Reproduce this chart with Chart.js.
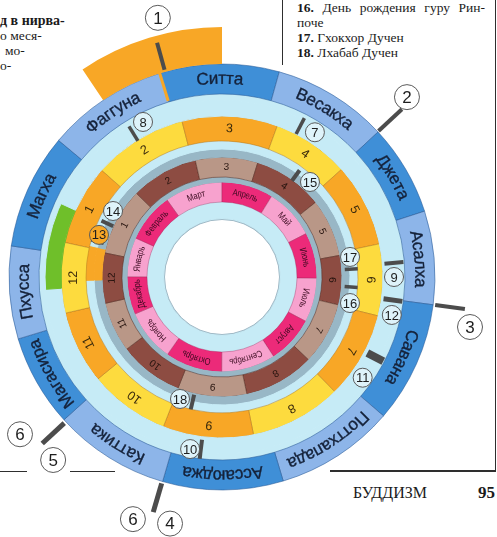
<!DOCTYPE html>
<html lang="ru">
<head>
<meta charset="utf-8">
<title>Буддийский календарь</title>
<script src="https://cdn.jsdelivr.net/npm/chart.js@4.4.1/dist/chart.umd.min.js"></script>
<style>
    html, body { margin: 0; padding: 0; background: #fff; }
    #page {
        position: relative;
        width: 497px;
        height: 537px;
        overflow: hidden;
        font-family: "Liberation Serif", "DejaVu Serif", serif;
        color: #1b1b1b;
    }
    #chartBox { position: absolute; left: 0; top: 0; width: 497px; height: 537px; }
    .txt { position: absolute; white-space: nowrap; font-size: 13.5px; line-height: 15px; }
    .rule { position: absolute; background: #2e2e2e; }
</style>
</head>
<body>
<div id="page">
    <!-- page text around the diagram -->
    <div class="txt" style="left:0;top:13px;font-weight:bold;font-size:14px;">д в нирва-</div>
    <div class="txt" style="left:0;top:28px;">о меся-</div>
    <div class="txt" style="left:5px;top:43px;">мо-</div>
    <div class="txt" style="left:0;top:58px;">о-</div>

    <div class="rule" style="left:282px;top:0;width:1px;height:65px;"></div>
    <div class="txt" style="left:297px;top:0;width:188px;white-space:normal;text-align:justify;text-align-last:justify;"><b>16.</b> День рождения гуру Рин-</div>
    <div class="txt" style="left:297px;top:15px;">поче</div>
    <div class="txt" style="left:297px;top:30px;"><b>17.</b> Гхокхор Дучен</div>
    <div class="txt" style="left:297px;top:45px;"><b>18.</b> Лхабаб Дучен</div>

    <div class="rule" style="left:0;top:471px;width:27px;height:1px;"></div>
    <div class="rule" style="left:70px;top:471px;width:45px;height:1px;"></div>
    <div class="rule" style="left:330px;top:470px;width:166px;height:1.5px;"></div>
    <div class="rule" style="left:495px;top:0;width:1px;height:471px;"></div>

    <div class="txt" style="left:353px;top:484px;font-size:16px;line-height:18px;">БУДДИЗМ</div>
    <div class="txt" style="left:478px;top:483px;font-size:17px;line-height:19px;font-weight:bold;">95</div>

    <div id="chartBox"><canvas id="calendarChart"></canvas></div>
</div>

<script>
// ---- values (segment sweeps in degrees, clockwise from top) ----

// outer ring: Pali month names
const paliMonths = ['Ситта', 'Весакха', 'Джета', 'Асалха', 'Савана', 'Поттхапада',
                    'Ассаюджа', 'Каттика', 'Магасира', 'Пхусса', 'Магха', 'Фаггуна'];
const paliSpans = [32.5, 31.5, 24.9, 25.5, 33.2, 32.6, 32.9, 31.7, 25.2, 25.3, 31.5, 33.2];
const paliStart = -16.9;

// yellow/orange ring: lunar months 1..12
const lunarMonths = ['1', '2', '3', '4', '5', '6', '7', '8', '9', '10', '11', '12'];
const lunarSpans = [29.2, 34.0, 34.5, 27.9, 30.1, 25.9, 31.5, 33.2, 32.7, 29.2, 26.4, 25.4];
const lunarStart = -77.6;

// brown ring: Tibetan months 1..12
const tibetanMonths = ['1', '2', '3', '4', '5', '6', '7', '8', '9', '10', '11', '12'];
const tibetanSpans = [32.8, 32.7, 30.3, 34.0, 28.2, 23.9, 30.3, 34.2, 33.6, 31.3, 24.4, 24.3];
const tibetanStart = -78.4;

// pink ring: Gregorian months
const gregMonths = ['Март', 'Апрель', 'Май', 'Июнь', 'Июль', 'Август',
                    'Сентябрь', 'Октябрь', 'Ноябрь', 'Декабрь', 'Январь', 'Февраль'];
const gregSpans = [35.5, 31.6, 31.1, 28.1, 27.1, 29.1, 33.2, 35.0, 31.8, 23.2, 24.1, 30.2];
const gregStart = -35.5;

// extra arcs: festival band above Фаггуна, green band, orange piece at 13
const festivalSpans = [33.9, 326.1];
const festivalStart = -33.9;
const greenSpans = [266.0, 28.5, 65.5];
const piece13Spans = [268.6, 14.8, 76.6];

// numbered callouts: angle (deg from top, clockwise), radius (px)
const calloutNums = ['1', '2', '3', '6', '4', '6', '5',
                     '7', '8', '9', '12', '11', '10', '18', '15', '17', '16', '14', '13'];
const calloutAngles = [-13.9, 45.8, 101.4, 200.2, 191.9, 232.1, 222.7,
                       32.7, 333, 90, 102.6, 125.6, 190.5, 199, 42.8, 81.1, 101.5, 301.2, 288.9];
const calloutRadii = [267, 258, 253, 258, 252, 256, 249,
                      172, 174, 172, 174, 173, 175, 129, 129.5, 129.6, 130.6, 127.4, 130];

// dark tick bars: angle, from radius, to radius
const tickAngles = [-15.5, 47, 97.5, 196.3, 227.2, 27.4, 328.3, 85.3, 97.7, 117.6, 187,
                    193.3, 36, 86.5, 94.4, 295, 286];
const tickFrom = [215, 214, 215, 215, 215, 161, 160, 163, 163, 164, 164, 121, 119, 123, 123, 120, 123];
const tickTo = [243, 246, 245, 245, 245, 179, 177, 182, 182, 182, 183, 136, 132, 136, 136, 133, 136];
const tickWidths = [4, 4, 4, 5, 5, 3.5, 3.5, 4, 5, 8, 4, 4, 4, 3.5, 3.5, 4, 4];

// ---- styling ----
const COLORS = {
    blueDark: '#3f8fd7',
    blueLight: '#8db5e9',
    cyan: '#c6ebf6',
    grayBand: '#98b7c6',
    yellow: '#fddb3e',
    orange: '#f8a726',
    brownDark: '#8d4c42',
    brownLight: '#b99787',
    pinkHot: '#ec2a79',
    pinkLight: '#f7a2ce',
    green: '#6fbf2a',
    tick: '#4c4c4c'
};

const alternate = (n, a, b) => Array.from({ length: n }, (_, i) => (i % 2 === 0 ? a : b));

function spacer(weight, spans, colors, rotation) {
    return {
        data: spans,
        weight: weight,
        rotation: rotation || 0,
        backgroundColor: colors,
        borderColor: colors,
        borderWidth: 1
    };
}

const datasets = [
    // r 250..213 : orange festival band
    {
        data: festivalSpans,
        weight: 37,
        rotation: festivalStart,
        backgroundColor: [COLORS.orange, 'rgba(0,0,0,0)'],
        borderWidth: 0
    },
    // r 213..183 : Pali months
    {
        data: paliSpans,
        weight: 30,
        rotation: paliStart,
        backgroundColor: alternate(12, COLORS.blueDark, COLORS.blueLight),
        borderColor: 'rgba(40,90,150,0.55)',
        borderWidth: 1,
        segLabels: paliMonths,
        labelFont: '17px "Liberation Sans", Arial, sans-serif',
        labelColor: '#15223a',
        labelStroke: 0.35,
        labelScaleX: 1,
        curved: true
    },
    spacer(6, [360], [COLORS.cyan]),
    spacer(16, greenSpans, [COLORS.cyan, COLORS.green, COLORS.cyan]),
    // r 161..136 : lunar months
    {
        data: lunarSpans,
        weight: 25,
        rotation: lunarStart,
        backgroundColor: alternate(12, COLORS.orange, COLORS.yellow),
        borderColor: 'rgba(170,110,20,0.45)',
        borderWidth: 1,
        segLabels: lunarMonths,
        labelFont: '12.5px "Liberation Sans", Arial, sans-serif',
        labelColor: '#3a2a0c'
    },
    spacer(8, piece13Spans, [COLORS.cyan, COLORS.orange, COLORS.cyan]),
    spacer(8, piece13Spans, [COLORS.grayBand, COLORS.orange, COLORS.grayBand]),
    // r 120..100 : Tibetan months
    {
        data: tibetanSpans,
        weight: 20,
        rotation: tibetanStart,
        backgroundColor: alternate(12, COLORS.brownLight, COLORS.brownDark),
        borderColor: 'rgba(80,40,30,0.5)',
        borderWidth: 1,
        segLabels: tibetanMonths,
        labelFont: '10px "Liberation Sans", Arial, sans-serif',
        labelColor: '#24120d'
    },
    spacer(5, [360], [COLORS.grayBand]),
    // r 95..75 : Gregorian months
    {
        data: gregSpans,
        weight: 20,
        rotation: gregStart,
        backgroundColor: alternate(12, COLORS.pinkLight, COLORS.pinkHot),
        borderColor: 'rgba(150,30,80,0.35)',
        borderWidth: 1,
        segLabels: gregMonths,
        labelFont: '9.5px "Liberation Sans", Arial, sans-serif',
        labelColor: '#3a0a1f',
        labelScaleX: 0.8,
        curved: true
    },
    spacer(16.5, [360], [COLORS.cyan]),
    spacer(1, [360], ['#9fb9c6'])
];

// text placed along each labelled ring
const ringText = {
    id: 'ringText',
    afterDatasetsDraw(chart) {
        const ctx = chart.ctx;
        chart.data.datasets.forEach((ds, i) => {
            if (!ds.segLabels) return;
            const sx = ds.labelScaleX || 1;
            const meta = chart.getDatasetMeta(i);
            meta.data.forEach((arc, j) => {
                const text = ds.segLabels[j];
                const mid = (arc.startAngle + arc.endAngle) / 2;
                const r = (arc.innerRadius + arc.outerRadius) / 2;
                ctx.save();
                ctx.font = ds.labelFont;
                ctx.fillStyle = ds.labelColor;
                ctx.strokeStyle = ds.labelColor;
                ctx.lineWidth = ds.labelStroke || 0;
                ctx.textAlign = 'center';
                ctx.textBaseline = 'middle';
                const paint = (s) => {
                    ctx.scale(sx, 1);
                    ctx.fillText(s, 0, 0);
                    if (ds.labelStroke) ctx.strokeText(s, 0, 0);
                };
                if (ds.curved) {
                    const total = ctx.measureText(text).width * sx;
                    let ang = mid - total / r / 2;
                    for (const ch of text) {
                        const w = ctx.measureText(ch).width * sx;
                        const a = ang + w / r / 2;
                        ctx.save();
                        ctx.translate(arc.x + Math.cos(a) * r, arc.y + Math.sin(a) * r);
                        ctx.rotate(a + Math.PI / 2);
                        paint(ch);
                        ctx.restore();
                        ang += w / r;
                    }
                } else {
                    ctx.translate(arc.x + Math.cos(mid) * r, arc.y + Math.sin(mid) * r);
                    ctx.rotate(mid + Math.PI / 2);
                    paint(text);
                }
                ctx.restore();
            });
        });
    }
};

// tick bars and numbered circles
const callouts = {
    id: 'callouts',
    afterDraw(chart) {
        const ctx = chart.ctx;
        const arc0 = chart.getDatasetMeta(1).data[0];
        const cx = arc0.x, cy = arc0.y;
        const pt = (deg, r) => {
            const t = (deg - 90) * Math.PI / 180;
            return [cx + Math.cos(t) * r, cy + Math.sin(t) * r];
        };
        const bar = (deg, r1, r2, w, color) => {
            const [x1, y1] = pt(deg, r1);
            const [x2, y2] = pt(deg, r2);
            ctx.beginPath();
            ctx.moveTo(x1, y1);
            ctx.lineTo(x2, y2);
            ctx.strokeStyle = color;
            ctx.lineWidth = w;
            ctx.lineCap = 'butt';
            ctx.stroke();
        };

        ctx.save();
        // orange seam between Фаггуна and Ситта
        bar(-17, 184, 215, 3, COLORS.orange);

        tickAngles.forEach((a, i) => bar(a, tickFrom[i], tickTo[i], tickWidths[i], COLORS.tick));

        calloutNums.forEach((n, i) => {
            const [x, y] = pt(calloutAngles[i], calloutRadii[i]);
            const big = calloutRadii[i] > 200;
            const rad = big ? 12.5 : 9.5;
            ctx.beginPath();
            ctx.arc(x, y, rad, 0, Math.PI * 2);
            ctx.fillStyle = big ? '#ffffff' : (n === '13' ? COLORS.orange : '#def3fa');
            ctx.fill();
            ctx.lineWidth = 1;
            ctx.strokeStyle = '#5a5a5a';
            ctx.stroke();
            ctx.fillStyle = '#1e1e1e';
            ctx.font = (big ? '17px' : '13px') + ' "Liberation Sans", Arial, sans-serif';
            ctx.textAlign = 'center';
            ctx.textBaseline = 'middle';
            ctx.fillText(n, x, y + 1);
        });
        ctx.restore();
    }
};

new Chart(document.getElementById('calendarChart'), {
    type: 'doughnut',
    data: { labels: paliMonths, datasets: datasets },
    options: {
        responsive: true,
        maintainAspectRatio: false,
        animation: false,
        events: [],
        cutout: '23%',
        radius: 250,
        layout: { padding: { left: 0, right: 53, top: 17, bottom: 0 } },
        plugins: {
            legend: { display: false },
            tooltip: { enabled: false }
        }
    },
    plugins: [ringText, callouts]
});
</script>
</body>
</html>
